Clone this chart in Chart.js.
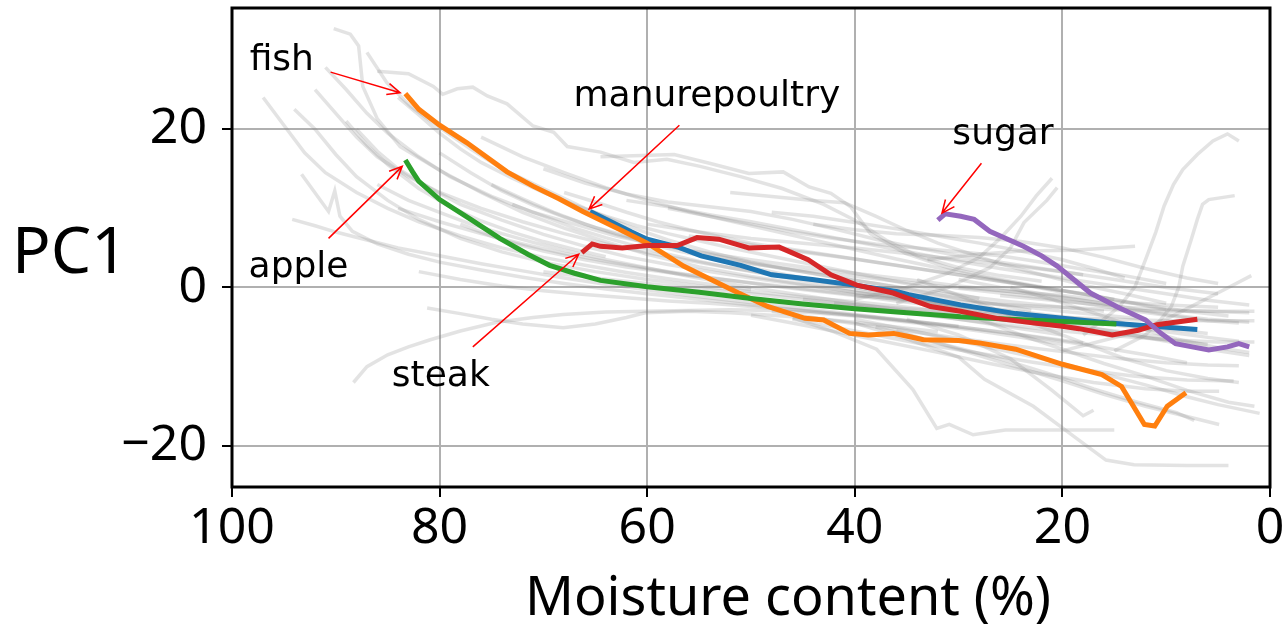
<!DOCTYPE html>
<html>
<head>
<meta charset="utf-8">
<script src="https://cdn.jsdelivr.net/npm/chart.js@4/dist/chart.umd.min.js"></script>
<style>
  body { margin: 0; background: #fff; }
</style>
</head>
<body>
<canvas id="pcChart" width="1286" height="627"></canvas>
<script>
// tick positions
const xTicks = [0, 20, 40, 60, 80, 100];
const yTicks = [-20, 0, 20];

// highlighted samples: [moisture %, PC1]
const manurepoultry = [[65.5,9.6],[63,8],[61.5,7],[60,6.1],[57,5.1],[54.8,4.0],[51,2.8],[48,1.6],[44.1,1.0],[40,0.3],[36,-0.5],[34.8,-0.9],[29.8,-2.2],[24.5,-3.3],[20,-3.9],[15.5,-4.5],[11.25,-4.9],[7,-5.3]];
const fish = [[83.3,24.5],[82,22.5],[80,20.5],[77.4,18.3],[73.5,14.6],[71,12.8],[68.5,11.2],[66.2,9.6],[62.6,7.3],[60,5.6],[56.5,2.7],[54.8,1.6],[51.2,-0.7],[48.4,-2.4],[44.8,-3.9],[43,-4.1],[40.5,-5.8],[38.7,-6.0],[36.25,-5.8],[34.8,-6.2],[33.4,-6.6],[30,-6.7],[28,-7.0],[24.5,-7.8],[20,-9.7],[16.2,-11],[14.3,-12.5],[12.1,-17.3],[11.1,-17.5],[9.9,-15],[8.1,-13.3]];
const apple = [[83.3,16.1],[82.6,14.6],[82,13.4],[80,11.1],[77,8.6],[74.2,6.2],[71.5,4.2],[69.4,2.8],[67,1.8],[64.5,0.9],[60,0.1],[55,-0.6],[50,-1.4],[45,-2.1],[40,-2.7],[35,-3.2],[29.8,-3.7],[25,-4.0],[20,-4.3],[14.8,-4.6]];
const steak = [[66.3,4.4],[65.3,5.5],[64.5,5.2],[62.4,5.0],[60,5.3],[57.1,5.3],[55.2,6.3],[53.1,6.1],[50.2,5.0],[47.3,5.1],[44.5,3.5],[42.3,1.6],[39.8,0.3],[36.3,-0.7],[32.7,-2.4],[29.8,-3.0],[26.3,-3.9],[22.7,-4.5],[20,-4.9],[18.4,-5.2],[15.2,-6.0],[12.7,-5.4],[10.9,-4.7],[7,-4.0]];
const sugar = [[32,8.5],[31.3,9.3],[29.8,9.0],[28.5,8.6],[27,7.1],[23.75,5.2],[22,4],[20.5,2.7],[17.3,-0.7],[14.5,-2.6],[12,-4.1],[10.5,-5.8],[9.1,-7.1],[7.5,-7.5],[5.9,-7.9],[4.1,-7.5],[3,-7.1],[2,-7.5]];

// all other samples (grey background traces)
const otherSamples = [
  [[90.2,32.7],[88.6,32],[87.8,30.5],[87.4,25.4],[86,21.3],[83.8,17.8],[80,14.8],[76,12],[72,9.5],[68,7.5],[64,5.8],[60,4.2],[55,2.6],[50,1.4],[45,0.4],[40,-0.6],[35,-1.5],[30,-2.3],[25,-3]],
  [[87,29.7],[85.1,25.9],[82.8,22.9],[80,20.2],[77,17.5],[74,15],[70,12.5],[66,10],[62,7.8],[58,6],[54,4.5],[50,3.2],[46,2.2],[42,1.3],[38,0.5],[34,-0.3],[30,-1],[25,-1.8],[20,-2.5],[16,-3]],
  [[86,27.3],[83,27],[80.6,25.4],[79.7,24.4],[78.3,25.1],[76.8,25.3],[75.4,24.2],[73.5,23.2],[71,20.4],[69,19.6],[67.7,17.8],[64.5,17.1],[61.3,15.8],[58.1,16.2],[54.9,15.3],[51,14],[47,12.5],[43,10.5],[40,8.5],[37,6],[34,4],[30,2.5],[26,1.5],[22,0.8]],
  [[91,27.8],[89,25],[87,22],[85,19.5],[82,16.5],[79,14],[75,11.5],[71,9.5],[67,8],[63,6.5],[59,5.4],[55,4.5],[50,3.5],[45,2.6],[40,1.8],[35,1],[30,0.2],[25,-0.5],[20,-1.3],[15,-2.2]],
  [[94,22.5],[92,20],[90,16.8],[88,14],[85,11],[82,8.6],[78,6.2],[74,4.5],[70,3.2],[65,2],[60,1],[55,0.2],[50,-0.5],[45,-1.2],[40,-1.8],[35,-2.5],[30,-3.2],[25,-4],[20,-4.8],[15,-5.5],[10,-6.3]],
  [[92,25],[90,22],[88,19],[86,16.5],[83,14],[80,12],[76,10],[72,8.3],[68,6.8],[64,5.5],[60,4.4],[56,3.4],[52,2.5],[48,1.7],[44,1],[40,0.3],[36,-0.4],[32,-1.1],[28,-1.8],[24,-2.4],[20,-3],[16,-3.5],[12,-4]],
  [[88,20],[86,17.2],[84,15],[81,12.6],[78,10.5],[74,8.5],[70,6.7],[66,5.2],[62,3.9],[58,2.9],[54,2],[50,1.2],[45,0.3],[40,-0.6],[35,-1.4],[30,-2.2],[25,-2.9],[20,-3.7],[15,-4.4],[10,-5.2],[6,-5.8]],
  [[93.3,14.3],[90.7,9.6],[90.1,12.2],[89.6,9],[88.4,7.1],[86,5.5],[83,4.2],[80,3.2],[76,2.2],[72,1.3],[68,0.5],[64,-0.2],[60,-0.8],[55,-1.5],[50,-2.2],[45,-2.9],[40,-3.5],[35,-4.2],[30,-4.9]],
  [[94.2,8.6],[92,7.8],[90,7],[87,6],[84,5],[80,4],[76,3],[72,2.1],[68,1.2],[64,0.4],[60,-0.3],[56,-1],[52,-1.6],[48,-2.2],[44,-2.8],[40,-3.4],[36,-4],[32,-4.6],[28,-5.3],[24,-6],[20,-6.8],[16,-7.6],[12,-8.5],[8,-9.5]],
  [[88.3,-12],[87,-10],[85,-8.5],[83,-7.5],[80.9,-6.6],[78,-5.5],[74.5,-4.4],[71,-3.8],[68.1,-3.4],[64,-3.1],[60.2,-3],[56,-2.9],[52,-2.8],[48,-2.9],[44,-3.2],[40,-3.6],[36,-4.2],[32,-4.8],[28,-5.5],[24,-6.3],[20,-7.2]],
  [[81.2,-2.6],[78,-3.3],[75,-4],[72,-4.6],[68.1,-5.1],[65,-4.6],[62,-3.8],[60.2,-3.2],[56,-3],[52,-3.2],[48,-3.5],[44,-3.9],[40,-4.4],[36,-5],[32,-5.6]],
  [[60,8],[55,7],[50,6.2],[45,5.6],[40,5],[35,4.3],[30,3.5],[25,2.8],[20,2],[15,1],[10,0],[5,-0.8]],
  [[58,10],[54,9],[50,8],[46,7],[42,6.2],[38,5.5],[34,5],[30,4.5],[26,4],[22,3.2],[18,2.3],[14,1.5],[10,0.5]],
  [[64.5,16.5],[57.4,16.8],[54,15.7],[50.2,14.4],[46.9,14.6],[44.4,12.7],[42.3,11.9],[40.4,10.2],[38.5,6.8],[35.1,4.3],[31,2.5],[27,1.3],[23,0.3],[19,-0.6],[15,-1.5]],
  [[52,12],[48,11.5],[44,11],[41,10.7],[38,9],[35,7.2],[32,5.6],[29,4.3],[26,3],[22,1.6],[18,0.3],[14,-0.8],[10,-2]],
  [[40,-1.5],[35,0],[31,1.8],[28,3.8],[26,6.2],[24,9],[22.5,11.6],[21,13.8]],
  [[36,-2],[31,0],[27,2.5],[25,5],[23.7,8.2],[21.5,11],[20.5,12.6]],
  [[18,-6],[16,-4],[14.5,-2.4],[13,0.1],[12,3.5],[11,7],[10.2,10.3],[9.3,13],[8.4,14.9],[7,16.8],[5.5,18.5],[4.1,19.4],[3,18.5]],
  [[15,-8],[12,-6],[10.5,-4],[9.5,-2.4],[8.8,0],[8.4,2.7],[7.6,6],[7,8.6],[6.5,10.5],[5.9,11.1],[3.4,11.6]],
  [[20,-8],[14,-6],[10,-4],[7,-2],[4,0],[1.8,1.5]],
  [[33,3.5],[28,4.2],[24,4.6],[19,4.7],[15.5,5],[13,5.2]],
  [[40,-1],[35,-1.5],[30,-1.8],[25,-2.2],[20,-2.5],[15,-2.8],[10,-3],[5,-3],[1.5,-3]],
  [[42,-2],[36,-2.6],[30,-3.1],[25,-3.5],[20,-3.8],[15,-4],[10,-4.2],[5,-4.2],[1.5,-4.2]],
  [[45,-1.5],[40,-2.4],[35,-3.2],[30,-4],[25,-4.8],[20,-5.5],[15,-6.1],[10,-6.6],[5,-6.9],[1.5,-6.9]],
  [[48,-3],[42,-4.2],[36,-5.3],[30,-6.4],[25,-7.3],[20,-8.1],[15,-8.9],[10,-9.5],[6,-9.8],[3,-9.9]],
  [[46,-4],[40,-5.5],[34,-7],[28,-8.3],[23,-9.4],[18,-10.4],[13,-11.2],[8,-11.7],[3.5,-11.8]],
  [[50,-3.5],[44,-5],[38,-6.6],[32,-8.2],[27,-9.6],[22,-10.9],[17,-12],[12,-12.8],[8,-13.1],[4.9,-13.1]],
  [[40,-4],[34,-5.6],[28,-7.3],[22,-9],[17,-10.6],[12,-12.3],[8,-13.8],[5,-14.8],[1,-15.9]],
  [[38,-5],[32,-7],[26,-9],[21,-11],[17,-12.8],[13,-14.4],[9,-15.8],[7.3,-16.8]],
  [[36,-5.5],[30,-7.8],[25,-9.8],[20,-11.8],[16,-13.5],[12,-15],[8,-16.3],[4.9,-17.3]],
  [[40,-4.5],[35,-6.5],[30,-8.8],[27.5,-11.6],[22.8,-15],[18.9,-18.8],[15.8,-21.8],[13.1,-22.4],[8,-22.5],[4,-22.5]],
  [[46,-3.8],[42,-5.6],[37.9,-7.8],[34.4,-12.9],[32.1,-17.8],[30.9,-17.3],[28.6,-18.6],[25.5,-18],[20,-18],[15,-18]],
  [[35,-4],[30,-6],[25,-9],[21,-13],[18,-16.2],[17,-15.5]],
  [[70,2],[65,1.2],[60,0.5],[55,-0.2],[50,-0.8],[45,-1.5],[40,-2.2],[35,-2.9],[30,-3.6],[25,-4.3],[20,-5],[15,-5.8],[10,-6.6],[6,-7.2]],
  [[78,8],[74,6],[70,4.6],[66,3.5],[62,2.6],[58,1.9],[54,1.2],[50,0.6],[46,0],[42,-0.6],[38,-1.2],[34,-1.8],[30,-2.4],[26,-3],[22,-3.6],[18,-4.2],[14,-4.9],[10,-5.6],[6,-6.3],[3,-6.8]],
  [[84,10],[80,8.3],[76,6.8],[72,5.5],[68,4.3],[64,3.3],[60,2.4],[56,1.6],[52,0.9],[48,0.2],[44,-0.4],[40,-1],[36,-1.7],[32,-2.3],[28,-2.9],[24,-3.5],[20,-4.1],[16,-4.7]],
  [[75,13],[72,11.2],[69,9.5],[66,8],[63,6.7],[60,5.6],[57,4.6],[54,3.8],[50,3],[46,2.3],[42,1.7],[38,1.1],[34,0.5],[30,-0.1],[26,-0.7],[22,-1.3],[18,-2],[14,-2.8],[10,-3.5],[6,-4.2],[3,-4.5]],
  [[68,12],[65,10.8],[62,9.5],[59,8.3],[56,7.3],[53,6.4],[50,5.6],[46,4.8],[42,4],[38,3.2],[34,2.4],[30,1.6],[26,0.8],[22,0],[18,-0.8],[14,-1.8],[10,-2.8]],
  [[62,11],[58,10.2],[54,9.2],[50,8.3],[46,7.3],[42,6.3],[38,5.3],[34,4.3],[30,3.3],[26,2.4],[22,1.6],[18,0.8],[14,0],[10,-0.8],[6,-1.6],[2,-2.2]],
  [[55,4],[50,2.5],[45,1.2],[40,0],[35,-1.1],[30,-2.2],[25,-3.3],[20,-4.4],[15,-5.6],[10,-6.8],[5,-8],[2,-8.6]],
  [[82,2],[78,1],[74,0.2],[70,-0.4],[66,-0.9],[62,-1.3],[58,-1.7],[54,-2],[50,-2.4],[46,-2.8],[42,-3.3],[38,-3.8],[34,-4.4],[30,-5],[26,-5.6],[22,-6.3],[18,-7]],
  [[97,24],[95,20.5],[93,17],[91,14.5],[88,12],[85,10],[82,8.3],[78,6.5],[74,5],[70,3.8],[66,2.8],[62,1.9],[58,1.1],[54,0.4],[50,-0.3]],
  [[89,21],[87,18],[85,15.5],[82,12.5],[79,10.2],[76,8.4],[73,7],[70,5.8],[67,4.8],[64,3.9]],
  [[84,24],[82,21.8],[80,19.5],[78,17.5],[76,15.8],[73,13.8],[70,12],[67,10.4],[64,9],[61,7.8],[58,6.8],[55,5.9],[52,5],[49,4.2],[46,3.4],[43,2.6],[40,1.8],[37,1],[34,0.2],[31,-0.6],[28,-1.4]],
  [[26,-1],[22,-1.5],[18,-2],[14,-2.5],[10,-2.8],[6,-3],[2,-3.2]],
  [[30,0],[25,-0.5],[20,-1],[15,-1.8],[10,-2.2],[5,-2.5]],
  [[80,17],[77,14.5],[74,12.2],[71,10.4],[68,8.9],[65,7.6],[62,6.5],[59,5.5],[56,4.7],[53,3.9],[50,3.1],[47,2.4],[44,1.8],[41,1.1],[38,0.5],[35,-0.2],[32,-0.9],[29,-1.6],[26,-2.2],[23,-2.9]],
  [[73,10.5],[70,9],[67,7.5],[64,6.3],[61,5.2],[58,4.2],[55,3.3],[52,2.5],[49,1.8],[46,1.1],[43,0.4],[40,-0.3],[37,-1],[34,-1.6],[31,-2.3],[28,-3],[25,-3.6]],
  [[86,13],[83,11],[80,9.5],[77,8],[74,6.8],[71,5.7],[68,4.7],[65,3.8],[62,3],[59,2.2],[56,1.4],[53,0.7],[50,0],[47,-0.6],[44,-1.2],[41,-1.8],[38,-2.4],[35,-3],[32,-3.6],[29,-4.2],[26,-4.8],[23,-5.4],[20,-6]],
  [[56,6.5],[52,5.8],[48,5],[44,4.3],[40,3.6],[36,2.8],[32,2],[28,1.2],[24,0.4],[20,-0.4],[16,-1.3],[12,-2.2],[8,-3],[4,-3.6]],
  [[48,9.5],[44,9],[40,8.2],[36,7.4],[32,6.5],[28,5.6],[24,4.6],[20,3.5],[17,2.4],[14,1.2]],
  [[30,1],[26,0],[22,-0.8],[18,-1.6],[14,-2.5],[10,-3.4],[6,-4],[2,-4.4]],
  [[76,19],[72,16.5],[68,14.5],[64,12.6],[60,11],[56,9.6],[52,8.4],[48,7.2],[44,6],[40,4.8],[36,3.6],[32,2.5],[28,1.4],[24,0.4],[20,-0.6]],
  [[70,15],[66,13.2],[62,11.8],[58,10.8],[54,10.2],[50,9.6],[46,8.6],[42,7.4],[38,6.1],[34,5],[30,4],[26,3.2],[22,2.4],[18,1.6]],
  [[44,8],[40,7.3],[36,6.8],[32,6.6],[28,6.3],[24,5.8],[20,5],[16,3.8],[12,2.4],[8,1.2],[5,0.5]],
  [[34,1],[30,-1],[26,-3],[22,-5],[18,-7],[14,-9],[10,-10.5],[6,-11.5],[3,-12]],
  [[28,-4],[24,-6],[20,-7.8],[16,-9.6],[12,-11.2],[8,-13],[4,-14.5],[1.5,-15]],
  [[25,0],[21,-1.5],[17,-3.2],[13,-5],[9,-6.5],[5,-7.6],[2,-8.2]]
];

// labels with arrows: text anchor and arrow from/to, in data units
const labels = [
  { text: 'fish', at: [98.3, 27.5], from: [90.5, 27.2], to: [83.8, 24.6] },
  { text: 'manurepoultry', at: [67.1, 22.9], from: [56.9, 20.5], to: [65.6, 9.9] },
  { text: 'sugar', at: [30.6, 18.1], from: [27.8, 15.7], to: [31.6, 9.4] },
  { text: 'apple', at: [98.4, 1.3], from: [90.7, 6.2], to: [83.6, 15.3] },
  { text: 'steak', at: [84.6, -12.4], from: [76.8, -7.5], to: [66.6, 4.2] }
];

const toPoints = arr => arr.map(p => ({ x: p[0], y: p[1] }));

const highlight = [
  { data: sugar, color: '#9467bd', order: 0 },
  { data: steak, color: '#d62728', order: 1 },
  { data: apple, color: '#2ca02c', order: 2 },
  { data: fish, color: '#ff7f0e', order: 3 },
  { data: manurepoultry, color: '#1f77b4', order: 4 }
];

const datasets = highlight.map(h => ({
  data: toPoints(h.data),
  borderColor: h.color,
  borderWidth: 5,
  pointRadius: 0,
  order: h.order
}));
otherSamples.forEach(s => datasets.push({
  data: toPoints(s),
  borderColor: 'rgba(128,128,128,0.22)',
  borderWidth: 3.5,
  pointRadius: 0,
  order: 5
}));

const decorations = {
  id: 'decorations',
  afterDraw(chart) {
    const { ctx, chartArea: a, scales: { x, y } } = chart;
    ctx.save();
    // frame
    ctx.strokeStyle = '#000';
    ctx.lineWidth = 3;
    ctx.strokeRect(a.left, a.top, a.right - a.left, a.bottom - a.top);

    // annotations
    labels.forEach(l => {
      const x0 = x.getPixelForValue(l.from[0]), y0 = y.getPixelForValue(l.from[1]);
      const x1 = x.getPixelForValue(l.to[0]), y1 = y.getPixelForValue(l.to[1]);
      ctx.strokeStyle = '#ff0000';
      ctx.lineWidth = 1.5;
      ctx.beginPath();
      ctx.moveTo(x0, y0);
      ctx.lineTo(x1, y1);
      const ang = Math.atan2(y1 - y0, x1 - x0);
      const len = 14, spread = 0.42;
      ctx.moveTo(x1 - len * Math.cos(ang - spread), y1 - len * Math.sin(ang - spread));
      ctx.lineTo(x1, y1);
      ctx.lineTo(x1 - len * Math.cos(ang + spread), y1 - len * Math.sin(ang + spread));
      ctx.stroke();

      ctx.fillStyle = '#000';
      ctx.font = '36px "DejaVu Sans"';
      ctx.textAlign = 'left';
      ctx.textBaseline = 'alphabetic';
      ctx.fillText(l.text, x.getPixelForValue(l.at[0]), y.getPixelForValue(l.at[1]));
    });

    // axis titles
    ctx.fillStyle = '#000';
    ctx.font = '64px "Noto Sans"';
    ctx.textAlign = 'left';
    ctx.fillText('PC1', 12, 273);
    ctx.font = '54px "Noto Sans"';
    ctx.textAlign = 'center';
    ctx.fillText('Moisture content (%)', 788, 615);
    ctx.restore();
  }
};

new Chart(document.getElementById('pcChart'), {
  type: 'line',
  data: { datasets },
  options: {
    responsive: false,
    devicePixelRatio: 1,
    animation: false,
    events: [],
    layout: { padding: { left: 0, right: 16, top: 8, bottom: 0 } },
    plugins: { legend: { display: false }, tooltip: { enabled: false } },
    elements: { line: { tension: 0, fill: false } },
    scales: {
      x: {
        type: 'linear',
        reverse: true,
        min: 0,
        max: 100,
        afterBuildTicks: s => { s.ticks = xTicks.map(v => ({ value: v })); },
        afterFit: s => { s.height = 140; s.paddingLeft = 0; s.paddingRight = 0; },
        grid: { color: '#b0b0b0', lineWidth: 2, tickLength: 10, tickColor: '#000', tickWidth: 2 },
        border: { display: false },
        ticks: {
          color: '#000',
          font: { family: 'Noto Sans', size: 50 },
          maxRotation: 0,
          autoSkip: false,
          padding: 2
        }
      },
      y: {
        type: 'linear',
        min: -25.2,
        max: 35.3,
        afterBuildTicks: s => { s.ticks = yTicks.map(v => ({ value: v })); },
        afterFit: s => { s.width = 232; s.paddingTop = 0; s.paddingBottom = 0; },
        grid: { color: '#b0b0b0', lineWidth: 2, tickLength: 10, tickColor: '#000', tickWidth: 2 },
        border: { display: false },
        ticks: {
          color: '#000',
          font: { family: 'Noto Sans', size: 50 },
          padding: 15,
          callback: v => (v < 0 ? '\u2212' + Math.abs(v) : String(v))
        }
      }
    }
  },
  plugins: [decorations]
});
</script>
</body>
</html>
